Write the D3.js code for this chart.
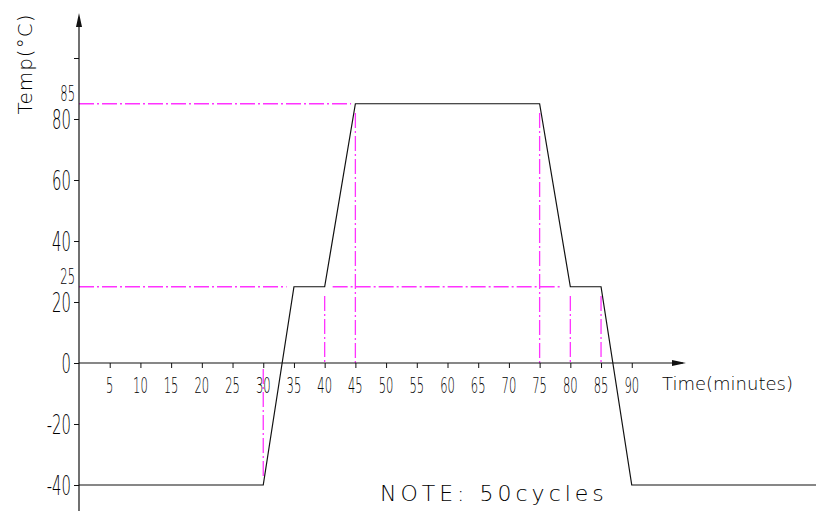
<!DOCTYPE html>
<html>
<head>
<meta charset="utf-8">
<script src="https://cdn.jsdelivr.net/npm/d3@7"></script>
<style>
  body { margin: 0; background: #fff; }
  .lab { font-family: "DejaVu Sans", sans-serif; font-weight: 200; fill: #000; }
</style>
</head>
<body>
<div class="chart"></div>
<script>
// profile of one cycle
let times = [0, 30, 35, 40, 45, 75, 80, 85, 90, 120];
let temps = [-40, -40, 25, 25, 85, 85, 25, 25, -40, -40];

let xTicks = [5, 10, 15, 20, 25, 30, 35, 40, 45, 50, 55, 60, 65, 70, 75, 80, 85, 90];
let yTicks = [-40, -20, 0, 20, 40, 60, 80, 100];
let yLabels = ["-40", "-20", "0", "20", "40", "60", "80", ""];
let refTemps = [85, 25];
let refTimes = [30, 40, 45, 75, 80, 85];

let width = 819, height = 511;

let svg = d3.select(".chart").append("svg")
  .attr("width", width)
  .attr("height", height);

let x = d3.scaleLinear().domain([0, 120]).range([79, 816]);
let y = d3.scaleLinear().domain([-40, 100]).range([485, 58]);

let dash = "15,3,2,3";
let pink = "#ff33ff";

// magenta guide lines
// horizontal at 85
svg.append("line")
  .attr("x1", x(0)).attr("x2", x(44.3))
  .attr("y1", y(85)).attr("y2", y(85))
  .attr("stroke", pink).attr("stroke-width", 1.3).attr("stroke-dasharray", dash);
// horizontal at 25, two pieces
svg.append("line")
  .attr("x1", x(0)).attr("x2", x(33.8))
  .attr("y1", y(25)).attr("y2", y(25))
  .attr("stroke", pink).attr("stroke-width", 1.3).attr("stroke-dasharray", dash);
svg.append("line")
  .attr("x1", x(41.3)).attr("x2", x(78.5))
  .attr("y1", y(25)).attr("y2", y(25))
  .attr("stroke", pink).attr("stroke-width", 1.3).attr("stroke-dasharray", dash);

// vertical guides
let vTop = { 30: -2, 40: 22, 45: 82, 75: 82, 80: 22, 85: 22 };
let vBot = { 30: -38, 40: 0, 45: 0, 75: 0, 80: 0, 85: 0 };
svg.selectAll(".vguide").data(refTimes).enter().append("line")
  .attr("class", "vguide")
  .attr("x1", d => x(d)).attr("x2", d => x(d))
  .attr("y1", d => y(vTop[d])).attr("y2", d => y(vBot[d]))
  .attr("stroke", pink).attr("stroke-width", 1.3).attr("stroke-dasharray", dash);

// axes (ticks only, labels drawn narrow below)
let xAxis = d3.axisBottom(x).tickValues(xTicks).tickSize(5).tickFormat("");
let xg = svg.append("g").attr("transform", "translate(0," + y(0) + ")").call(xAxis);
xg.select(".domain").remove();
xg.selectAll("line").attr("stroke", "#111");

let yAxis = d3.axisLeft(y).tickValues(yTicks).tickSize(5).tickFormat("");
let yg = svg.append("g").attr("transform", "translate(" + x(0) + ",0)").call(yAxis);
yg.select(".domain").remove();
yg.selectAll("line").attr("stroke", "#111");

// condensed CAD-like labels
function narrow(sel, size, sx) {
  sel.attr("class", "lab").style("font-size", size + "px")
    .attr("transform", function() {
      let t = d3.select(this);
      return "translate(" + t.attr("data-x") + "," + t.attr("data-y") + ") scale(" + sx + ",1)";
    });
}

svg.selectAll(".xl").data(xTicks).enter().append("text")
  .attr("data-x", d => x(d))
  .attr("data-y", y(0) + 30)
  .attr("text-anchor", "middle")
  .text(d => d)
  .call(narrow, 21, 0.55);

svg.selectAll(".yl").data(yTicks).enter().append("text")
  .attr("data-x", x(0) - 8)
  .attr("data-y", d => y(d) + 10)
  .attr("text-anchor", "end")
  .text((d, i) => yLabels[i])
  .call(narrow, 27, 0.55);

// extra labels 85 and 25
svg.selectAll(".reflab").data(refTemps).enter().append("text")
  .attr("data-x", x(0) - 4)
  .attr("data-y", d => y(d) - 3)
  .attr("text-anchor", "end")
  .text(d => d)
  .call(narrow, 21, 0.55);

// axis lines with arrows
svg.append("line").attr("x1", x(0)).attr("x2", 683).attr("y1", y(0)).attr("y2", y(0))
  .attr("stroke", "#111").attr("stroke-width", 1.2);
svg.append("path").attr("d", "M686," + y(0) + " l-14,-3 l0,6 z").attr("fill", "#111");
svg.append("line").attr("x1", x(0)).attr("x2", x(0)).attr("y1", 511).attr("y2", 18)
  .attr("stroke", "#111").attr("stroke-width", 1.2);
svg.append("path").attr("d", "M" + x(0) + ",13 l-3,14 l6,0 z").attr("fill", "#111");

// temperature profile
let line = d3.line().x((d, i) => x(times[i])).y(d => y(d));
svg.append("path").datum(temps)
  .attr("d", line)
  .attr("fill", "none")
  .attr("stroke", "#111")
  .attr("stroke-width", 1.2);

// titles
svg.append("text")
  .attr("transform", "translate(32,64) rotate(-90)")
  .attr("text-anchor", "middle")
  .attr("class", "lab")
  .style("font-size", "20px")
  .style("letter-spacing", "1px")
  .text("Temp(°C)");

svg.append("text")
  .attr("x", 662).attr("y", 390)
  .attr("class", "lab")
  .style("font-size", "18px")
  .text("Time(minutes)");

svg.append("text")
  .attr("x", 380).attr("y", 501)
  .attr("class", "lab")
  .style("font-size", "22px")
  .style("letter-spacing", "4px")
  .text("NOTE: 50cycles");
</script>
</body>
</html>
